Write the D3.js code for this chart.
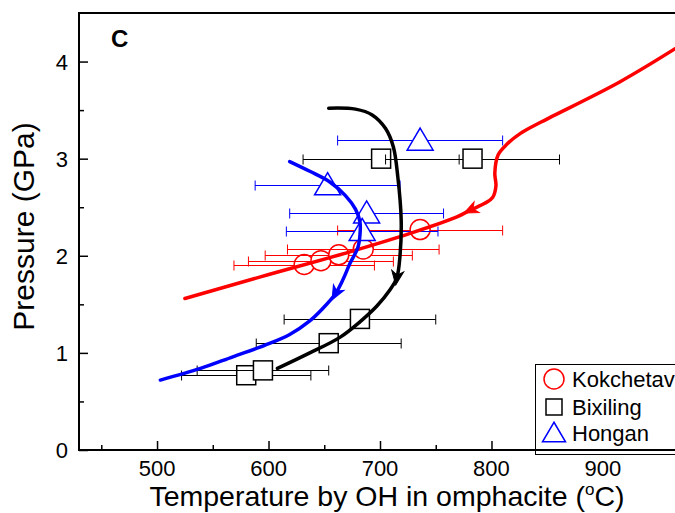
<!doctype html>
<html>
<head>
<meta charset="utf-8">
<script src="https://cdn.jsdelivr.net/npm/d3@7/dist/d3.min.js"></script>
<style>
  body { margin: 0; background: #fff; }
  svg { display: block; font-family: "Liberation Sans", Arial, sans-serif; }
</style>
</head>
<body>
<svg width="675" height="513"></svg>
<script>
// tick values
var xTicks = [500, 600, 700, 800, 900];
var xMinor = [450, 550, 650, 750, 850, 950];
var yTicks = [0, 1, 2, 3, 4];
var yMinor = [0.5, 1.5, 2.5, 3.5];

// Kokchetav (circles)
var kokT = [632, 647, 663, 685, 736];
var kokP = [1.91, 1.95, 2.01, 2.07, 2.27];
var kokErr = [63, 65, 66, 68, 74];

// Bixiling (squares)
var bixT = [701, 783, 580, 595, 654, 682];
var bixP = [3.00, 3.00, 0.77, 0.82, 1.10, 1.35];
var bixErr = [70, 78, 58, 59, 65, 68];

// Hongan (triangles)
var honT = [736, 653, 688, 684];
var honP = [3.19, 2.73, 2.44, 2.26];
var honErr = [74, 65, 69, 68];

// P-T paths (in direction of travel)
var redT = [970, 915, 845, 826, 814, 806, 803, 804, 801, 794, 781, 769, 727, 673, 592, 525];
var redP = [4.17, 3.79, 3.38, 3.26, 3.15, 3.04, 2.85, 2.72, 2.60, 2.54, 2.47, 2.40, 2.23, 2.04, 1.78, 1.56];
var redArrow = 10;

var blackT = [654, 678, 693, 705, 712, 716, 719, 718, 715, 709, 697, 682, 664, 637, 608];
var blackP = [3.52, 3.51, 3.45, 3.31, 3.12, 2.81, 2.37, 2.01, 1.77, 1.65, 1.48, 1.32, 1.16, 1.00, 0.84];
var blackArrow = 8;

var blueT = [619, 637, 655, 669, 678, 682, 682, 680, 673, 667, 660, 648, 637, 619, 597, 568, 539, 503];
var blueP = [2.97, 2.87, 2.76, 2.62, 2.48, 2.35, 2.21, 2.08, 1.92, 1.76, 1.61, 1.45, 1.33, 1.19, 1.08, 0.96, 0.84, 0.72];
var blueArrow = 10;

var legendNames = ["Kokchetav", "Bixiling", "Hongan"];

var svg = d3.select("svg");
var pLeft = 79, pRight = 681, pTop = 13, pBottom = 450;

var x = d3.scaleLinear().domain([430, 970]).range([pLeft, pRight]);
var y = d3.scaleLinear().domain([0, 4.5]).range([pBottom, pTop]);

// ticks (pointing inward)
var xAxis = d3.axisBottom(x).tickValues(xTicks).tickSize(-9).tickFormat("");
var xAxisMinor = d3.axisBottom(x).tickValues(xMinor).tickSize(-5).tickFormat("");
var yAxis = d3.axisLeft(y).tickValues(yTicks).tickSize(-9).tickFormat("");
var yAxisMinor = d3.axisLeft(y).tickValues(yMinor).tickSize(-5).tickFormat("");

[xAxis, xAxisMinor].forEach(function(a) {
  svg.append("g").attr("transform", "translate(0," + pBottom + ")").call(a);
});
[yAxis, yAxisMinor].forEach(function(a) {
  svg.append("g").attr("transform", "translate(" + pLeft + ",0)").call(a);
});
svg.selectAll(".tick line").attr("stroke", "#000").attr("stroke-width", 1.5);
svg.selectAll(".domain").remove();

// frame
svg.append("path")
  .attr("d", "M" + pRight + "," + pTop + "H" + pLeft + "V" + pBottom + "H" + pRight)
  .attr("fill", "none").attr("stroke", "#000").attr("stroke-width", 2);

// tick labels
svg.selectAll(".xlab").data(xTicks).enter().append("text")
  .attr("x", function(d) { return x(d); })
  .attr("y", 476)
  .attr("text-anchor", "middle")
  .attr("font-size", 22)
  .text(function(d) { return d; });
svg.selectAll(".ylab").data(yTicks).enter().append("text")
  .attr("x", 68)
  .attr("y", function(d) { return y(d) + 8; })
  .attr("text-anchor", "end")
  .attr("font-size", 22)
  .text(function(d) { return d; });

// axis titles
var xt = svg.append("text")
  .attr("x", 387).attr("y", 506)
  .attr("text-anchor", "middle")
  .attr("font-size", 28.5);
xt.append("tspan").text("Temperature by OH in omphacite (");
xt.append("tspan").attr("font-size", 17).attr("dy", -11).text("o");
xt.append("tspan").attr("dy", 11).text("C)");

svg.append("text")
  .attr("transform", "translate(34,226.5) rotate(-90)")
  .attr("text-anchor", "middle")
  .attr("font-size", 30)
  .text("Pressure (GPa)");

svg.append("text")
  .attr("x", 111).attr("y", 46.5)
  .attr("font-size", 24).attr("font-weight", "bold")
  .text("C");

// marker shapes
function circle(g, cx, cy, color, r) {
  g.append("circle").attr("cx", cx).attr("cy", cy).attr("r", r)
    .attr("fill", "#fff").attr("stroke", color).attr("stroke-width", 1.5);
}
function square(g, cx, cy, color, s) {
  g.append("rect").attr("x", cx - s / 2).attr("y", cy - s / 2).attr("width", s).attr("height", s)
    .attr("fill", "#fff").attr("stroke", color).attr("stroke-width", 1.5);
}
function triangle(g, cx, cy, color, w) {
  var h = w * 0.85;
  g.append("path")
    .attr("d", "M" + cx + "," + (cy - h * 0.55) + "L" + (cx + w / 2) + "," + (cy + h * 0.45) +
      "L" + (cx - w / 2) + "," + (cy + h * 0.45) + "Z")
    .attr("fill", "#fff").attr("stroke", color).attr("stroke-width", 1.5);
}

var plot = svg.append("g");

function drawSeries(ts, ps, errs, color, shape, size) {
  ts.forEach(function(t, i) {
    var cy = Math.round(y(ps[i])) + 0.5;
    var x0 = x(t - errs[i]), x1 = x(t + errs[i]);
    plot.append("path")
      .attr("d", "M" + x0 + "," + cy + "H" + x1 + "M" + x0 + "," + (cy - 5) + "V" + (cy + 5) +
        "M" + x1 + "," + (cy - 5) + "V" + (cy + 5))
      .attr("fill", "none").attr("stroke", color).attr("stroke-width", 1);
    shape(plot, x(t), y(ps[i]), color, size);
  });
}

drawSeries(kokT, kokP, kokErr, "#ff0000", circle, 10);
drawSeries(bixT, bixP, bixErr, "#000", square, 19);
drawSeries(honT, honP, honErr, "#0000ff", triangle, 26);

// paths with arrowheads
var line = d3.line().curve(d3.curveCatmullRom.alpha(0.5));

function drawPath(ts, ps, color, arrowAt) {
  var pts = ts.map(function(t, i) { return [x(t), y(ps[i])]; });
  svg.append("path")
    .attr("d", line(pts))
    .attr("fill", "none").attr("stroke", color)
    .attr("stroke-width", 3.5).attr("stroke-linecap", "round");
  var a = pts[arrowAt - 1], b = pts[arrowAt];
  var ang = Math.atan2(b[1] - a[1], b[0] - a[0]) * 180 / Math.PI;
  svg.append("path")
    .attr("transform", "translate(" + b[0] + "," + b[1] + ") rotate(" + ang + ")")
    .attr("d", "M7,0L-7,-6L-3,0L-7,6Z")
    .attr("fill", color).attr("stroke", color).attr("stroke-width", 1);
}

drawPath(redT, redP, "#ff0000", redArrow);
drawPath(blackT, blackP, "#000", blackArrow);
drawPath(blueT, blueP, "#0000ff", blueArrow);

// legend
var lg = svg.append("g");
lg.append("rect").attr("x", 535.5).attr("y", 364.5).attr("width", 170).attr("height", 90)
  .attr("fill", "#fff").attr("stroke", "#000").attr("stroke-width", 1);
var legendShapes = [circle, square, triangle];
var legendColors = ["#ff0000", "#000", "#0000ff"];
var legendSizes = [10, 16, 23];
var legendY = [379, 407, 433];
legendNames.forEach(function(n, i) {
  legendShapes[i](lg, 554, legendY[i], legendColors[i], legendSizes[i]);
  lg.append("text").attr("x", 572).attr("y", legendY[i] + 8)
    .attr("font-size", 22).text(n);
});
// bottom axis back on top of the legend box
svg.append("line").attr("x1", pLeft).attr("x2", pRight).attr("y1", pBottom).attr("y2", pBottom)
  .attr("stroke", "#000").attr("stroke-width", 2);
</script>
</body>
</html>
